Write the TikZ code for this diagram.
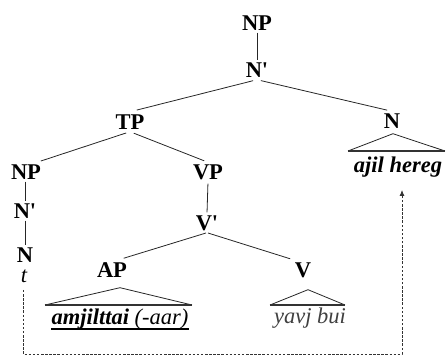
\documentclass[tikz,border=0pt]{standalone}
\usepackage{fontspec}
\setmainfont{Liberation Serif}
\usetikzlibrary{calc,arrows.meta}
\begin{document}
\begin{tikzpicture}[x=1pt,y=-1pt,
  lab/.style={font=\fontsize{22.5}{26}\selectfont\bfseries, text height=15pt, text depth=0pt, inner xsep=0pt, inner ysep=2pt},
  word/.style={font=\fontsize{22.5}{26}\selectfont\itshape, inner sep=0pt, anchor=base},
  br/.style={line width=0.8pt, black!85},
  tri/.style={line width=0.8pt, black!85},
  base/.style={line width=1.4pt, black!80},
  mv/.style={line width=0.8pt, dash pattern=on 2.5pt off 1.6pt, black!80}]
\useasboundingbox (0,0) rectangle (448,355);
% labels
\node[lab] (np1) at (257,23) {NP};
\node[lab] (nb1) at (257,70) {N\textquotesingle};
\node[lab] (tp) at (130,122) {TP};
\node[lab] (n1) at (392,121) {N};
\node[lab] (np2) at (26,172) {NP};
\node[lab] (vp) at (208,172) {VP};
\node[lab] (nb2) at (25,211) {N\textquotesingle};
\node[lab] (vb) at (207,223) {V\textquotesingle};
\node[lab] (n2) at (25,255) {N};
\node[lab] (ap) at (112,270) {AP};
\node[lab] (v) at (303,270) {V};
% words
\node[word, font=\fontsize{22.5}{26}\selectfont\bfseries\itshape] (ajil) at (398,173) {ajil hereg};
\node[word] (t) at (24,283) {t};
\node[word] (amj) at (120,325) {\textbf{amjilttai} (-aar)};
\node[word, text=black!75] (yavj) at (310,324) {yavj bui};
% branches
\draw[br] (np1) -- (nb1);
\draw[br, shorten <=4pt, shorten >=9pt] (nb1.south) -- ($(tp.north)+(-2,0)$);
\draw[br, shorten <=4pt, shorten >=5pt] (nb1.south) -- (n1.north);
\draw[br, shorten <=4pt, shorten >=4pt] (tp.south) -- ($(np2.north)+(11,0)$);
\draw[br, shorten <=4pt, shorten >=4pt] (tp.south) -- (vp.north);
\draw[br, shorten <=2pt, shorten >=1pt] (vp.south) -- (vb.north);
\draw[br, shorten <=1pt, shorten >=7pt] (vb.south) -- ($(ap.north)+(5,0)$);
\draw[br, shorten <=1pt, shorten >=5pt] (vb.south) -- ($(v.north)+(-8,0)$);
\draw[br] (np2.south -| nb2) -- (nb2.north);
\draw[br] (nb2.south) -- (n2.north);
% triangles
\draw[tri] ($(n1.south)+(1,3)$) coordinate (na) -- (348,151) coordinate (nl);
\draw[tri] (na) -- (445,151) coordinate (nr);
\draw[base] (nl) -- (nr);
\draw[tri] ($(ap.south)+(8,8)$) coordinate (aa) -- (45,305) coordinate (al);
\draw[tri] (aa) -- (192,305) coordinate (ar);
\draw[base] (al) -- (ar);
\draw[tri] ($(v.south)+(5,10)$) coordinate (va) -- (270,305) coordinate (vl);
\draw[tri] (va) -- (345,305) coordinate (vr);
\draw[base] (vl) -- (vr);
% underline
\draw[line width=1.4pt] ($(amj.base west)+(0,4)$) -- ($(amj.base east)+(0,4)$);
% movement
\coordinate (c1) at (23,354);
\coordinate (c2) at (402,354);
\draw[mv, -{Latex[length=6pt,width=5pt]}] ($(t.base)+(-1,7)$) -- (c1) -- (c2) -- ($(ajil.base)+(4,17)$);
\end{tikzpicture}
\end{document}
